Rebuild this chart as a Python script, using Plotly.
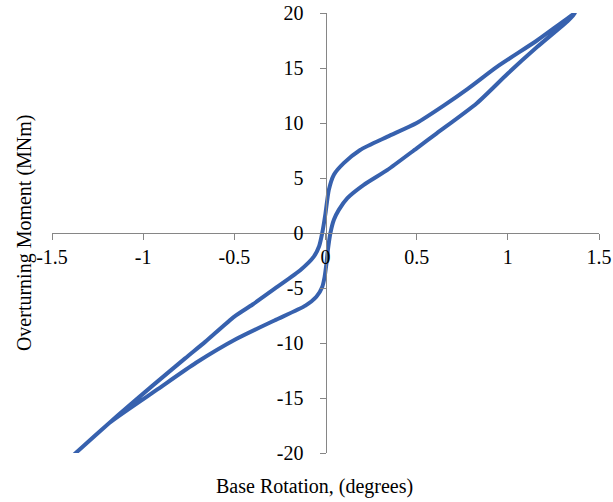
import plotly.graph_objects as go

# Hysteresis loop: overturning moment vs base rotation
rotation_deg = [
    1.37, 1.16, 0.94, 0.78, 0.65, 0.50, 0.34, 0.19, 0.10, 0.046, 0.018, 0.0,
    -0.018, -0.035, -0.064, -0.137, -0.265, -0.40, -0.50, -0.66, -0.77,
    -0.95, -1.14, -1.37,
    -1.18, -0.92, -0.71, -0.49, -0.28, -0.11, -0.05, -0.018, -0.005,
    0.005, 0.013, 0.027, 0.046, 0.073, 0.12, 0.21, 0.34, 0.50, 0.61, 0.83,
    1.00, 1.16, 1.33, 1.37,
]
moment_mnm = [
    20.0, 17.5, 15.1, 13.1, 11.6, 10.0, 8.76, 7.55, 6.35, 5.3, 3.9, 1.8,
    0.0, -1.2, -2.15, -3.36, -4.9, -6.5, -7.6, -9.9, -11.4,
    -13.9, -16.6, -20.0,
    -17.2, -14.2, -11.8, -9.64, -7.95, -6.6, -5.8, -4.9, -4.0,
    -2.8, -1.55, 0.0, 1.2, 2.1, 3.17, 4.38, 5.74, 7.7, 9.06, 11.8,
    14.5, 16.9, 19.3, 20.0,
]

x_ticks = [-1.5, -1.0, -0.5, 0.0, 0.5, 1.0, 1.5]
x_tick_labels = ["-1.5", "-1", "-0.5", "0", "0.5", "1", "1.5"]
y_ticks = [-20, -15, -10, -5, 0, 5, 10, 15, 20]
y_tick_labels = ["-20", "-15", "-10", "-5", "0", "5", "10", "15", "20"]

FONT = "Liberation Serif, Times New Roman, serif"
AXIS_GREY = "#868686"
LINE_BLUE = "#3761AE"

fig = go.Figure(
    go.Scatter(
        x=rotation_deg,
        y=moment_mnm,
        mode="lines",
        line=dict(color=LINE_BLUE, width=4, shape="spline", smoothing=0.6),
        hoverinfo="skip",
    )
)

axis_common = dict(
    showgrid=False,
    zeroline=False,
    showline=True,
    linecolor=AXIS_GREY,
    linewidth=1,
    ticks="outside",
    ticklen=6,
    tickwidth=1,
    tickcolor=AXIS_GREY,
    tickfont=dict(family=FONT, size=20, color="black"),
    anchor="free",
    position=0.5,
    automargin=False,
)

fig.update_layout(
    width=613,
    height=502,
    margin=dict(l=52, r=14, t=13, b=49),
    paper_bgcolor="white",
    plot_bgcolor="white",
    showlegend=False,
    xaxis=dict(
        range=[-1.5, 1.5],
        tickmode="array",
        tickvals=x_ticks,
        ticktext=x_tick_labels,
        **axis_common,
    ),
    yaxis=dict(
        range=[-20, 20],
        tickmode="array",
        tickvals=y_ticks,
        ticktext=y_tick_labels,
        ticklabelstandoff=12,
        **axis_common,
    ),
    annotations=[
        dict(
            text="Base Rotation, (degrees)",
            xref="paper", yref="paper",
            x=0.48, y=-0.077,
            xanchor="center", yanchor="middle",
            showarrow=False,
            font=dict(family=FONT, size=20, color="black"),
        ),
        dict(
            text="Overturning Moment (MNm)",
            xref="paper", yref="paper",
            x=-0.051, y=0.5,
            xanchor="center", yanchor="middle",
            textangle=-90,
            showarrow=False,
            font=dict(family=FONT, size=20, color="black"),
        ),
    ],
)

fig.write_html("out.html")
